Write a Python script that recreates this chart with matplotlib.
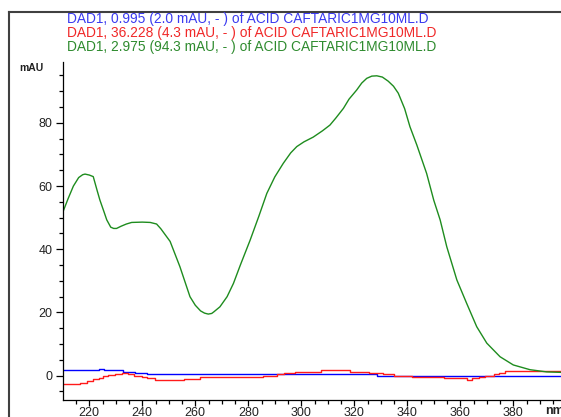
import matplotlib
matplotlib.use("Agg")
import matplotlib.pyplot as plt
from matplotlib.lines import Line2D
from matplotlib.ticker import MultipleLocator

plt.rcParams['font.family'] = ['Liberation Sans', 'DejaVu Sans']

# ---- data ----
green_nm = [210.0, 212.0, 214.0, 216.0, 217.5, 218.4, 220.0, 221.5, 223.0, 224.0, 225.5,
            226.6, 228.1, 229.2, 230.3, 232.0, 234.0, 236.0, 240.0, 243.0, 245.4, 247.0,
            250.5, 254.2, 258.0, 260.0, 262.0, 263.5, 264.9, 266.2, 267.0, 269.3, 272.0, 274.4,
            277.0, 280.7, 284.0, 287.0, 290.0, 293.2, 296.0, 298.3, 301.0, 304.5,
            308.0, 310.8, 313.0, 315.9, 318.0, 320.9, 322.8, 324.7, 326.6, 328.5, 330.6, 332.8, 334.8, 336.6,
            339.0, 341.0, 343.6, 347.3, 350.0, 352.4, 354.9, 358.7, 362.4, 366.2,
            370.0, 375.0, 380.0, 386.3, 392.6, 400.0]
green_mau = [51.7, 56.0, 60.0, 62.7, 63.6, 63.8, 63.5, 63.0, 58.5, 55.6, 52.0,
             49.3, 47.0, 46.6, 46.6, 47.3, 48.0, 48.5, 48.6, 48.5, 48.0, 46.5,
             42.5, 34.5, 25.0, 22.3, 20.5, 19.8, 19.5, 19.7, 20.2, 21.8, 25.0, 29.2,
             35.0, 42.9, 50.5, 57.7, 62.9, 67.2, 70.5, 72.5, 74.0, 75.5,
             77.5, 79.3, 81.5, 84.6, 87.5, 90.4, 92.6, 94.1, 94.8, 94.9, 94.5, 93.2, 91.6, 89.4,
             84.5, 78.8, 73.0, 64.0, 55.5, 49.3, 40.8, 30.3, 22.9, 15.5,
             10.3, 6.0, 3.4, 1.9, 1.2, 1.0]

blue_nm = [210.0, 223.5, 225.7, 232.8, 237.2, 241.7, 328.4, 400.0]
blue_mau = [1.8, 2.2, 1.8, 1.27, 0.84, 0.44, 0.0, 0.0]

red_nm = [210.0, 216.5, 219.0, 221.5, 223.5, 225.3, 227.2, 229.7, 232.5, 234.8,
          236.9, 239.8, 241.7, 244.9, 255.6, 261.6, 285.7, 290.8, 293.3, 297.7,
          307.4, 318.4, 325.6, 331.0, 334.8, 341.7, 349.9, 354.0, 362.5, 364.4,
          366.9, 369.4, 372.6, 374.5, 377.0, 385.1, 400.0]
red_mau = [-2.62, -2.2, -1.68, -1.15, -0.62, -0.2, 0.21, 0.64, 0.96, 0.54,
           0.01, -0.41, -0.83, -1.26, -0.94, -0.52, -0.1, 0.43, 0.75, 1.28,
           1.8, 1.28, 0.86, 0.43, 0.0, -0.32, -0.52, -0.83, -1.26, -0.83,
           -0.41, 0.0, 0.54, 0.96, 1.39, 1.5, 1.5]

legend_texts = [
    "DAD1, 0.995 (2.0 mAU, - ) of ACID CAFTARIC1MG10ML.D",
    "DAD1, 36.228 (4.3 mAU, - ) of ACID CAFTARIC1MG10ML.D",
    "DAD1, 2.975 (94.3 mAU, - ) of ACID CAFTARIC1MG10ML.D",
]
legend_colors = ["#3a3af0", "#f02828", "#2e8b2e"]
x_major_ticks = [220, 240, 260, 280, 300, 320, 340, 360, 380]
y_major_ticks = [0, 20, 40, 60, 80]

# ---- figure ----
W, H = 561, 417
fig = plt.figure(figsize=(W / 100, H / 100), dpi=100)

ax_l, ax_r, ax_t, ax_b = 63.3, 566.3, 62.0, 400.0
ax = fig.add_axes([ax_l / W, (H - ax_b) / H, (ax_r - ax_l) / W, (ax_b - ax_t) / H])
ax.set_xlim(210.2, 400.0)
ax.set_ylim(-7.69, 99.27)

ax.plot(blue_nm, blue_mau, color="#0000ff", lw=1.0, drawstyle="steps-post")
ax.plot(red_nm, red_mau, color="#ff1a1a", lw=1.0, drawstyle="steps-post")
ax.plot(green_nm, green_mau, color="#1e8c1e", lw=1.0)

for s in ("top", "right"):
    ax.spines[s].set_visible(False)
for s in ("left", "bottom"):
    ax.spines[s].set_color("black")
    ax.spines[s].set_linewidth(0.9)

ax.set_xticks(x_major_ticks)
ax.set_yticks(y_major_ticks)
ax.xaxis.set_minor_locator(MultipleLocator(5))
ax.yaxis.set_minor_locator(MultipleLocator(5))
ax.tick_params(which="major", length=4, width=0.9, labelsize=9, colors="black",
               labelcolor="#222222")
ax.tick_params(axis="x", which="major", pad=1)
ax.tick_params(axis="y", which="major", pad=3, length=5)
ax.tick_params(which="minor", length=3, width=0.9, colors="black")

# unit labels
fig.text(545 / W, (H - 411) / H, "nm", fontsize=9, color="#222222",
         ha="left", va="center", fontweight="bold")
fig.text(19 / W, (H - 68) / H, "mAU", fontsize=7.5, color="#222222",
         ha="left", va="center", fontweight="bold")

# legend texts
for i, (t, c) in enumerate(zip(legend_texts, legend_colors)):
    fig.text(67 / W, (H - (19.5 + 13.8 * i)) / H, t, fontsize=9.9, color=c,
             ha="left", va="center")

# outer frame lines
fig.add_artist(Line2D([9.3 / W, 9.3 / W], [0, (H - 12.3) / H], color="#404040",
                      lw=1.5, transform=fig.transFigure))
fig.add_artist(Line2D([9.3 / W, 1.0], [(H - 12.3) / H, (H - 12.3) / H], color="#404040",
                      lw=1.5, transform=fig.transFigure))

fig.savefig("out.png", dpi=100)
